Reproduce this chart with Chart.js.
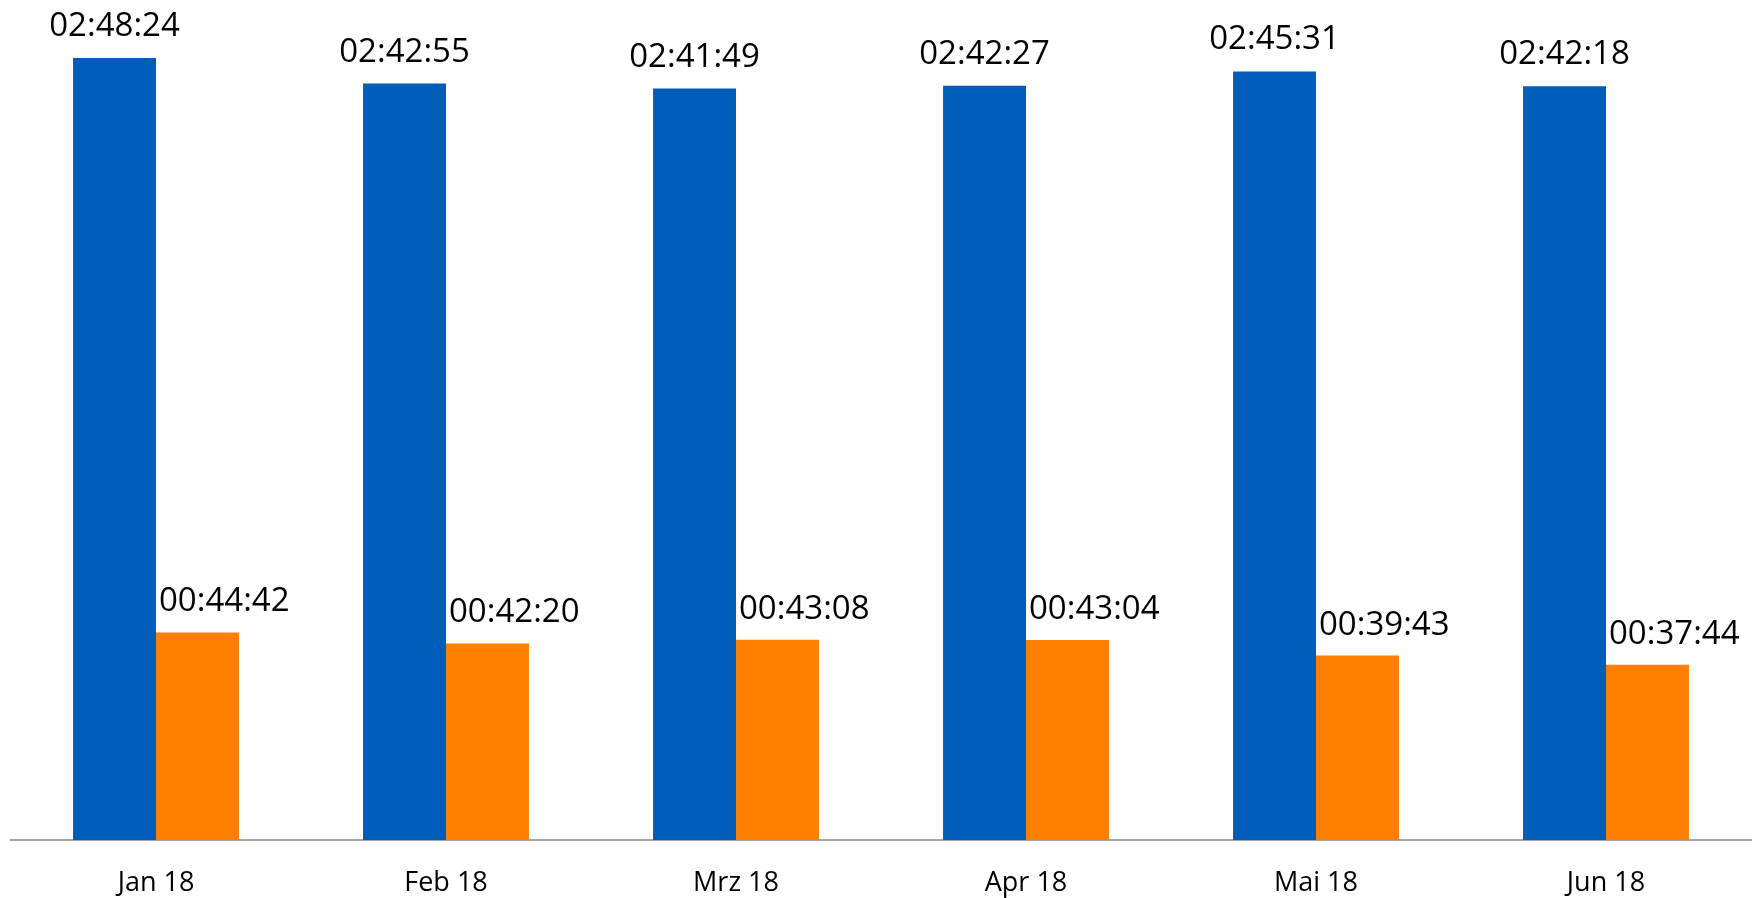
<!DOCTYPE html>
<html>
<head>
<meta charset="utf-8">
<script src="https://cdn.jsdelivr.net/npm/chart.js@4"></script>
<style>
    html, body { margin: 0; padding: 0; background: #fff; }
    #wrap { width: 1755px; height: 898px; position: relative; }
</style>
</head>
<body>
<div id="wrap"><canvas id="chart"></canvas></div>
<script>
    // values as shown in the picture (hh:mm:ss)
    const MONTHS = ["Jan 18", "Feb 18", "Mrz 18", "Apr 18", "Mai 18", "Jun 18"];
    const BLUE_TIMES = ["02:48:24", "02:42:55", "02:41:49", "02:42:27", "02:45:31", "02:42:18"];
    const ORANGE_TIMES = ["00:44:42", "00:42:20", "00:43:08", "00:43:04", "00:39:43", "00:37:44"];

    const BLUE = "#005CB9";
    const ORANGE = "#FF7F00";
    const FONT = "'Open Sans', sans-serif";

    function toSeconds(t) {
        const p = t.split(":").map(Number);
        return p[0] * 3600 + p[1] * 60 + p[2];
    }

    // draws the hh:mm:ss labels above the bars
    const valueLabels = {
        id: "valueLabels",
        afterDatasetsDraw(chart) {
            const ctx = chart.ctx;
            ctx.save();
            ctx.font = "33px " + FONT;
            ctx.fillStyle = "#000";
            ctx.textBaseline = "alphabetic";
            chart.data.datasets.forEach((ds, di) => {
                const meta = chart.getDatasetMeta(di);
                meta.data.forEach((bar, i) => {
                    const txt = ds.times[i];
                    if (di === 0) {
                        ctx.textAlign = "center";
                        ctx.fillText(txt, bar.x, bar.y - 22);
                    } else {
                        ctx.textAlign = "left";
                        ctx.fillText(txt, bar.x - bar.width / 2 + 3, bar.y - 21);
                    }
                });
            });
            ctx.restore();
        }
    };

    new Chart(document.getElementById("chart"), {
        type: "bar",
        data: {
            labels: MONTHS,
            datasets: [
                { data: BLUE_TIMES.map(toSeconds), times: BLUE_TIMES, backgroundColor: BLUE, categoryPercentage: 0.572, barPercentage: 1 },
                { data: ORANGE_TIMES.map(toSeconds), times: ORANGE_TIMES, backgroundColor: ORANGE, categoryPercentage: 0.572, barPercentage: 1 }
            ]
        },
        options: {
            responsive: true,
            maintainAspectRatio: false,
            animation: false,
            layout: { padding: { left: 11, right: 4, top: 0, bottom: 0 } },
            plugins: { legend: { display: false }, tooltip: { enabled: false } },
            scales: {
                x: {
                    grid: { display: false },
                    border: { display: true, color: "#A6A6A6", width: 2 },
                    ticks: { color: "#000", font: { family: FONT, size: 27 }, padding: 19, maxRotation: 0 },
                    afterFit(scale) { scale.height = 58; }
                },
                y: {
                    display: false,
                    min: 0,
                    max: 10854
                }
            }
        },
        plugins: [valueLabels]
    });
</script>
</body>
</html>
